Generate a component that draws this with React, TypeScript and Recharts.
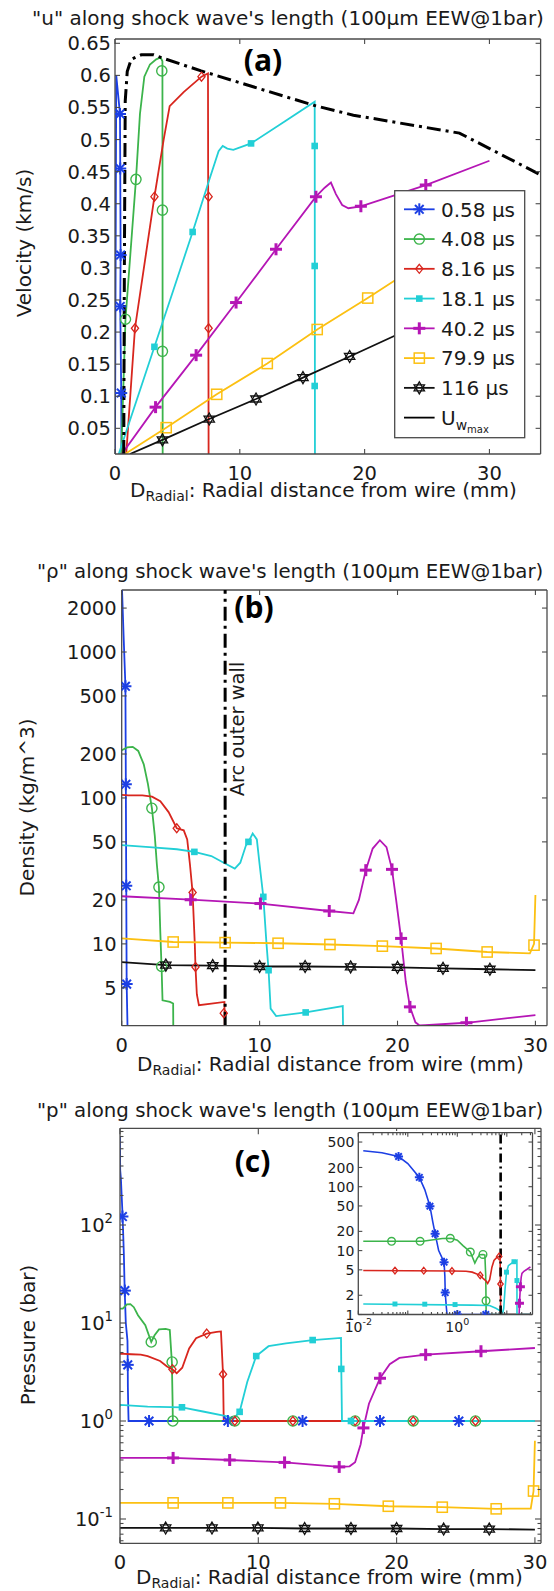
import React from 'react';
import { ComposedChart, Line, Scatter, XAxis, YAxis, ReferenceLine } from 'recharts';

type P = [number, number];

const FONT = '"DejaVu Sans", Verdana, sans-serif';
const AX = '#4a4a4a';
const TXT = '#1a1a1a';

const seriesNames = ['0.58 µs', '4.08 µs', '8.16 µs', '18.1 µs', '40.2 µs', '79.9 µs', '116 µs'];
const seriesColors = ['#1c3fe4', '#3cb44b', '#d8261e', '#22cfd6', '#b516b5', '#fcc012', '#111111'];
const seriesMarkers = ['star', 'circle', 'diamond', 'fsquare', 'plus', 'square', 'hex'];

// ---- (a) velocity (km/s) vs radial distance (mm)
const uBlue: P[] = [[0, 0.01], [0.1, 0.6], [0.25, 0.57], [0.4, 0.54], [0.42, 0.455], [0.45, 0.32], [0.42, 0.24], [0.5, 0.105], [0.52, 0.01]];
const uBlueMk: P[] = [[0.4, 0.54], [0.42, 0.455], [0.45, 0.32], [0.42, 0.24], [0.5, 0.105]];
const uGreen: P[] = [[0.5, 0.01], [0.84, 0.22], [1.68, 0.438], [2.0, 0.54], [2.35, 0.598], [2.8, 0.617], [3.3, 0.625], [3.65, 0.628], [3.8, 0.622], [3.82, 0.01]];
const uGreenMk: P[] = [[0.84, 0.22], [1.68, 0.438], [3.75, 0.607], [3.8, 0.39], [3.8, 0.17]];
const uRed: P[] = [[0.9, 0.01], [1.6, 0.206], [3.16, 0.411], [3.9, 0.5], [4.38, 0.552], [5.5, 0.574], [6.93, 0.598], [7.45, 0.603], [7.5, 0.01]];
const uRedMk: P[] = [[1.6, 0.206], [3.16, 0.411], [6.93, 0.598], [7.5, 0.411], [7.5, 0.206]];
const uCyan: P[] = [[0.3, 0.01], [3.16, 0.177], [4.5, 0.255], [6.22, 0.356], [7.6, 0.44], [8.3, 0.482], [8.63, 0.49], [9.0, 0.486], [9.48, 0.484], [10.9, 0.494], [13.5, 0.527], [16.0, 0.559], [16.02, 0.01]];
const uCyanMk: P[] = [[3.16, 0.177], [6.22, 0.356], [10.9, 0.494], [16.0, 0.49], [16.0, 0.303], [16.0, 0.116]];
const uMag: P[] = [[0.55, 0.01], [3.25, 0.083], [6.5, 0.164], [9.7, 0.246], [12.9, 0.329], [16.1, 0.411], [16.8, 0.425], [17.3, 0.433], [17.7, 0.415], [18.2, 0.398], [18.7, 0.393], [19.7, 0.396], [24.9, 0.429], [30.0, 0.467]];
const uMagMk: P[] = [[3.25, 0.083], [6.5, 0.164], [9.7, 0.246], [12.9, 0.329], [16.1, 0.411], [19.7, 0.396], [24.9, 0.429]];
const uYel: P[] = [[0.8, 0.01], [4.1, 0.051], [8.15, 0.103], [12.2, 0.151], [16.2, 0.204], [20.25, 0.253], [24.3, 0.304], [30, 0.375]];
const uYelMk: P[] = [[4.1, 0.051], [8.15, 0.103], [12.2, 0.151], [16.2, 0.204], [20.25, 0.253]];
const uBlk: P[] = [[1.2, 0.01], [3.8, 0.032], [7.55, 0.0645], [11.3, 0.0957], [15.06, 0.129], [18.8, 0.162], [22.5, 0.195], [30, 0.26]];
const uBlkMk: P[] = [[3.8, 0.032], [7.55, 0.0645], [11.3, 0.0957], [15.06, 0.129], [18.8, 0.162]];
const uWall: P[] = [[0.7, 0.01], [0.75, 0.3], [0.82, 0.56], [0.98, 0.606], [1.3, 0.625], [2.1, 0.632], [3.1, 0.632], [3.8, 0.627], [6.9, 0.607], [16, 0.553], [19.1, 0.538], [27.6, 0.51], [34.1, 0.445]];

// ---- (b) density (kg/m^3)
const rBlue: P[] = [[0.02, 2740], [0.15, 1200], [0.27, 582], [0.3, 124], [0.33, 25], [0.36, 5.3], [0.42, 2.75]];
const rBlueMk: P[] = [[0.27, 582], [0.3, 124], [0.33, 25], [0.36, 5.3]];
const rGreen: P[] = [[0, 212], [0.4, 222], [0.8, 224], [1.2, 210], [1.6, 170], [1.9, 125], [2.19, 85], [2.4, 55], [2.55, 35], [2.7, 24.5], [2.8, 12], [2.9, 6.5], [2.96, 4.1], [3.5, 4.0], [3.73, 3.9], [3.74, 2.75]];
const rGreenMk: P[] = [[2.19, 85], [2.7, 24.5], [2.9, 7.0]];
const rRed: P[] = [[0, 105], [0.5, 104], [1.5, 104], [2.2, 102], [2.8, 95], [3.4, 80], [3.99, 62], [4.5, 60], [4.75, 52], [4.95, 35], [5.14, 22.5], [5.3, 10], [5.35, 6.95], [5.45, 4.5], [5.6, 3.8], [6.5, 3.9], [7.45, 4.0], [7.47, 2.75]];
const rRedMk: P[] = [[3.99, 62], [5.14, 22.5], [5.35, 6.95], [7.4, 3.35]];
const rCyan: P[] = [[0, 47.5], [2, 46], [4, 44.5], [5.27, 42.7], [6.5, 40], [7.5, 35.5], [8.2, 32.8], [8.6, 36], [9.0, 47], [9.19, 50], [9.5, 57], [9.8, 52], [10.0, 35], [10.27, 21], [10.5, 10], [10.65, 6.6], [10.8, 3.6], [11.2, 3.2], [13.34, 3.39], [16.03, 3.75], [16.05, 2.75]];
const rCyanMk: P[] = [[5.27, 42.7], [9.19, 50], [10.27, 21], [10.65, 6.6], [13.34, 3.39]];
const rMag: P[] = [[0, 21.2], [5.0, 20.1], [10.06, 18.9], [15.05, 16.8], [16.8, 16.2], [17.2, 20], [17.7, 32], [18.2, 45], [18.72, 51.3], [19.2, 46], [19.6, 32.4], [19.9, 20], [20.26, 10.9], [20.6, 5.5], [20.9, 3.7], [21.3, 2.9], [21.6, 2.76], [22.0, 2.77], [25.0, 2.88], [30.0, 3.25]];
const rMagMk: P[] = [[5.0, 20.1], [10.06, 18.9], [15.05, 16.8], [17.7, 32], [19.6, 32.4], [20.26, 10.9], [20.9, 3.7], [25.0, 2.88]];
const rYel: P[] = [[0, 10.9], [3.73, 10.3], [7.5, 10.2], [11.34, 10.1], [15.1, 9.9], [18.9, 9.65], [22.8, 9.3], [26.5, 8.8], [29.6, 8.6], [29.9, 10], [30, 21.6]];
const rYelMk: P[] = [[3.73, 10.3], [7.5, 10.2], [11.34, 10.1], [15.1, 9.9], [18.9, 9.65], [22.8, 9.3], [26.5, 8.8], [29.9, 9.8]];
const rBlk: P[] = [[0, 7.5], [3.2, 7.15], [6.6, 7.1], [10, 7.0], [13.3, 7.0], [16.6, 6.95], [20, 6.9], [23.3, 6.8], [26.7, 6.7], [30, 6.6]];
const rBlkMk: P[] = [[3.2, 7.15], [6.6, 7.1], [10, 7.0], [13.3, 7.0], [16.6, 6.95], [20, 6.9], [23.3, 6.8], [26.7, 6.7]];

// ---- (c) pressure (bar)
const pBlue: P[] = [[0, 800], [0.0126, 365], [0.03, 340], [0.065, 297], [0.1, 230], [0.171, 140], [0.22, 90], [0.28, 49.6], [0.32, 28], [0.356, 18.4], [0.42, 10], [0.54, 6.6], [0.56, 4], [0.57, 2.2], [0.6, 1.3], [0.62, 1.0], [30, 1.0]];
const pBlueMk: P[] = [[0.175, 122], [0.35, 21.4], [0.56, 3.74], [2.1, 1], [7.8, 1], [13.2, 1], [18.8, 1], [24.5, 1]];
const pGreen: P[] = [[0, 14.2], [0.0126, 14], [0.05, 14], [0.2, 14], [0.5, 15.5], [0.75, 15.6], [1.0, 14.5], [1.3, 12], [1.83, 9.5], [2.26, 6.4], [2.5, 7.5], [2.82, 8.6], [3.3, 8.7], [3.6, 8.5], [3.75, 4.0], [3.8, 1.64], [3.82, 1.0], [30, 1.0]];
const pGreenMk: P[] = [[2.26, 6.4], [3.77, 4.0], [3.82, 1.0], [8.3, 1], [12.5, 1], [17.0, 1], [21.2, 1], [25.7, 1]];
const pRed: P[] = [[0, 4.75], [0.0126, 4.87], [0.8, 4.8], [1.5, 4.75], [2.0, 4.6], [2.9, 4.1], [3.4, 3.6], [3.8, 3.35], [4.1, 3.07], [4.5, 3.5], [5.0, 5.5], [5.5, 7.0], [6.27, 7.8], [7.0, 8.1], [7.3, 8.2], [7.45, 3.0], [7.5, 1.0], [30, 1.0]];
const pRedMk: P[] = [[3.79, 3.38], [6.27, 7.8], [7.45, 3.0], [8.3, 1.0], [12.5, 1], [17.0, 1], [21.2, 1], [25.7, 1]];
const pCyan: P[] = [[0, 1.41], [0.0126, 1.46], [2.0, 1.4], [4.48, 1.38], [6.0, 1.25], [7.67, 1.12], [8.2, 1.05], [8.65, 1.24], [9.2, 2.5], [9.85, 4.6], [10.74, 5.8], [12.0, 6.2], [13.93, 6.7], [15.98, 7.05], [16.0, 3.4], [16.05, 1.0], [30, 1.0]];
const pCyanMk: P[] = [[4.48, 1.38], [8.65, 1.24], [9.85, 4.6], [13.93, 6.7], [16.0, 3.4], [16.7, 1.0]];
const pMag: P[] = [[0, 0.42], [3.84, 0.42], [7.93, 0.4], [11.9, 0.378], [15.85, 0.34], [16.6, 0.345], [17.0, 0.38], [17.4, 0.58], [17.6, 0.85], [18.0, 1.5], [18.8, 2.73], [19.5, 3.8], [20.2, 4.4], [22.1, 4.75], [26.1, 5.15], [30, 5.56]];
const pMagMk: P[] = [[3.84, 0.42], [7.93, 0.4], [11.9, 0.378], [15.85, 0.34], [17.6, 0.85], [18.8, 2.73], [22.1, 4.75], [26.1, 5.15]];
const pYel: P[] = [[0, 0.146], [3.84, 0.146], [7.8, 0.146], [11.6, 0.146], [15.5, 0.143], [19.4, 0.135], [23.3, 0.132], [27.2, 0.127], [29.7, 0.128], [29.9, 0.193], [30, 0.63]];
const pYelMk: P[] = [[3.84, 0.146], [7.8, 0.146], [11.6, 0.146], [15.5, 0.143], [19.4, 0.135], [23.3, 0.132], [27.2, 0.127], [29.9, 0.193]];
const pBlk: P[] = [[0, 0.081], [3.3, 0.081], [6.65, 0.081], [9.97, 0.081], [13.35, 0.08], [16.7, 0.08], [20, 0.08], [23.4, 0.079], [26.7, 0.079], [30, 0.078]];
const pBlkMk: P[] = [[3.3, 0.081], [6.65, 0.081], [9.97, 0.081], [13.35, 0.08], [16.7, 0.08], [20, 0.08], [23.4, 0.079], [26.7, 0.079]];

// inset markers (log-log view of (c))
const iBlueMk: P[] = [[0.065, 297], [0.171, 140], [0.28, 49.6], [0.356, 18.4], [0.54, 6.6], [0.57, 2.2], [1.0, 1.0], [3.76, 1.0]];
const iGreenMk: P[] = [[0.047, 14], [0.177, 14], [0.72, 15.6], [1.83, 9.5], [3.3, 8.7], [3.8, 1.64]];
const iRedMk: P[] = [[0.055, 4.87], [0.21, 4.85], [0.78, 4.8], [2.9, 4.1], [7.0, 8.1], [7.45, 3.0]];
const iCyanMk: P[] = [[0.055, 1.46], [0.22, 1.45], [0.9, 1.43], [9.85, 4.6], [13.93, 6.7], [16.0, 3.4]];
const iMagMk: P[] = [[18.0, 1.5], [18.8, 2.73]];

// ticks
const xTicks30 = [0, 10, 20, 30];
const uYTicks = [0.05, 0.1, 0.15, 0.2, 0.25, 0.3, 0.35, 0.4, 0.45, 0.5, 0.55, 0.6, 0.65];
const rYTicks = [5, 10, 20, 50, 100, 200, 500, 1000, 2000];
const pYMajor = [0.1, 1, 10, 100];
const pYTicks = [0.06, 0.07, 0.08, 0.09, 0.1, 0.2, 0.3, 0.4, 0.5, 0.6, 0.7, 0.8, 0.9, 1, 2, 3, 4, 5, 6, 7, 8, 9, 10, 20, 30, 40, 50, 60, 70, 80, 90, 100, 200, 300, 400, 500, 600, 700, 800, 900];
const iYTicks = [1, 2, 5, 10, 20, 50, 100, 200, 500];
const iXMajor = [0.01, 0.1, 1, 10];
const iXLabelled = [0.01, 1];
const iXTicks = [0.01, 0.02, 0.03, 0.04, 0.05, 0.06, 0.07, 0.08, 0.09, 0.1, 0.2, 0.3, 0.4, 0.5, 0.6, 0.7, 0.8, 0.9, 1, 2, 3, 4, 5, 6, 7, 8, 9, 10, 20, 30];

const pts = (a: P[]) => a.map(([x, y]) => ({ x, y }));
const pos = (a: P[]) => a.filter(([x, y]) => x > 0 && y > 0);
const near = (list: number[]) => (v: number) => list.some((t) => Math.abs(t - v) < 1e-9);

function Marker({ kind, cx, cy, c, s }: { kind: string; cx: number; cy: number; c: string; s: number }) {
  if (cx == null || cy == null) return null;
  switch (kind) {
    case 'star': {
      const d = s * 0.72;
      return (
        <g stroke={c} strokeWidth={2}>
          <line x1={cx - s} y1={cy} x2={cx + s} y2={cy} />
          <line x1={cx} y1={cy - s} x2={cx} y2={cy + s} />
          <line x1={cx - d} y1={cy - d} x2={cx + d} y2={cy + d} />
          <line x1={cx - d} y1={cy + d} x2={cx + d} y2={cy - d} />
        </g>
      );
    }
    case 'circle':
      return <circle cx={cx} cy={cy} r={s * 0.85} fill="none" stroke={c} strokeWidth={1.4} />;
    case 'diamond': {
      const a = s * 0.75;
      return <polygon points={`${cx},${cy - a} ${cx + a * 0.8},${cy} ${cx},${cy + a} ${cx - a * 0.8},${cy}`} fill="none" stroke={c} strokeWidth={1.3} />;
    }
    case 'fsquare': {
      const a = s * 0.55;
      return <rect x={cx - a} y={cy - a} width={2 * a} height={2 * a} fill={c} />;
    }
    case 'plus':
      return (
        <g stroke={c} strokeWidth={3}>
          <line x1={cx - s} y1={cy} x2={cx + s} y2={cy} />
          <line x1={cx} y1={cy - s} x2={cx} y2={cy + s} />
        </g>
      );
    case 'square': {
      const a = s * 0.85;
      return <rect x={cx - a} y={cy - a} width={2 * a} height={2 * a} fill="none" stroke={c} strokeWidth={1.5} />;
    }
    default: {
      const tri = (off: number) =>
        [0, 1, 2].map((k) => {
          const t = ((off + 120 * k) * Math.PI) / 180;
          return `${cx + s * Math.cos(t)},${cy + s * Math.sin(t)}`;
        }).join(' ');
      return (
        <g fill="none" stroke={c} strokeWidth={1.3}>
          <polygon points={tri(-90)} />
          <polygon points={tri(90)} />
        </g>
      );
    }
  }
}

type Ser = { line: P[]; marks: P[]; idx: number };

type PanelProps = {
  left: number; top: number; w: number; h: number;
  plot: { l: number; t: number; r: number; b: number };
  xDom: [number, number]; yDom: [number, number];
  xLog?: boolean; yLog?: boolean;
  xTicks: number[]; yTicks: number[];
  xMajor: (v: number) => boolean; yMajor: (v: number) => boolean;
  xLabel: (v: number) => React.ReactNode; yLabel: (v: number) => React.ReactNode;
  fs: number; xOff: number; yGap: number; tick: number; minor: number;
  ms: number; lw: number; yw: number;
  series: Ser[];
  extra?: React.ReactNode[];
};

function Panel(p: PanelProps) {
  const XH = 30;
  const l = p.plot.l - p.left, t = p.plot.t - p.top, r = p.plot.r - p.left, b = p.plot.b - p.top;
  const spanX = r - l, spanY = b - t;
  const margin = { top: t, left: l - p.yw, right: p.w - r, bottom: p.h - b - XH };

  const yTickFn = (tp: any) => {
    const v = tp.payload.value;
    const maj = p.yMajor(v);
    const L = maj ? p.tick : p.minor;
    const lab = maj ? p.yLabel(v) : null;
    return (
      <g>
        <line x1={tp.x} y1={tp.y} x2={tp.x + L} y2={tp.y} stroke={AX} strokeWidth={1.1} />
        <line x1={tp.x + spanX} y1={tp.y} x2={tp.x + spanX - L} y2={tp.y} stroke={AX} strokeWidth={1.1} />
        {lab != null && (
          <text x={tp.x - p.yGap} y={tp.y + p.fs * 0.36} textAnchor="end" fontSize={p.fs} fontFamily={FONT} fill={TXT}>{lab}</text>
        )}
      </g>
    );
  };
  const xTickFn = (tp: any) => {
    const v = tp.payload.value;
    const maj = p.xMajor(v);
    const L = maj ? p.tick : p.minor;
    const lab = maj ? p.xLabel(v) : null;
    return (
      <g>
        <line x1={tp.x} y1={tp.y} x2={tp.x} y2={tp.y - L} stroke={AX} strokeWidth={1.1} />
        <line x1={tp.x} y1={tp.y - spanY} x2={tp.x} y2={tp.y - spanY + L} stroke={AX} strokeWidth={1.1} />
        {lab != null && (
          <text x={tp.x} y={tp.y + p.xOff} textAnchor="middle" fontSize={p.fs} fontFamily={FONT} fill={TXT}>{lab}</text>
        )}
      </g>
    );
  };

  return (
    <div style={{ position: 'absolute', left: p.left, top: p.top }}>
      <ComposedChart width={p.w} height={p.h} margin={margin}>
        <XAxis dataKey="x" type="number" scale={p.xLog ? 'log' : 'linear'} domain={p.xDom} allowDataOverflow
          ticks={p.xTicks} interval={0} tickSize={0} tickMargin={0} height={XH} tick={xTickFn} tickLine={false}
          axisLine={{ stroke: AX, strokeWidth: 1.3 }} />
        <YAxis dataKey="y" type="number" scale={p.yLog ? 'log' : 'linear'} domain={p.yDom} allowDataOverflow
          ticks={p.yTicks} interval={0} tickSize={0} tickMargin={0} width={p.yw} tick={yTickFn} tickLine={false}
          axisLine={{ stroke: AX, strokeWidth: 1.3 }} />
        <ReferenceLine x={p.xDom[1]} stroke={AX} strokeWidth={1.3} ifOverflow="visible" />
        <ReferenceLine y={p.yDom[1]} stroke={AX} strokeWidth={1.3} ifOverflow="visible" />
        {p.series.flatMap((s) => [
          <Line key={'l' + s.idx} data={pts(s.line)} dataKey="y" type="linear" stroke={seriesColors[s.idx]}
            strokeWidth={p.lw} dot={false} activeDot={false} isAnimationActive={false} />,
          <Scatter key={'m' + s.idx} data={pts(s.marks)} dataKey="y" isAnimationActive={false}
            shape={(sp: any) => <Marker kind={seriesMarkers[s.idx]} cx={sp.cx} cy={sp.cy} c={seriesColors[s.idx]} s={p.ms} />} />,
        ])}
        {p.extra}
      </ComposedChart>
    </div>
  );
}

const num = (v: number) => String(v);
const pow10 = (base: number) => (v: number) => {
  const e = Math.round(Math.log10(v));
  return (
    <>
      10<tspan dy={-base * 0.45} fontSize={base * 0.68}>{e < 0 ? '-' + -e : String(e)}</tspan>
    </>
  );
};

function LegendBox() {
  const rowY = (i: number) => 19.3 + i * 29.76;
  return (
    <svg width={132} height={249} style={{ position: 'absolute', left: 394, top: 190, overflow: 'visible' }}>
      <rect x={0.7} y={0.7} width={130} height={247} fill="#fff" stroke={AX} strokeWidth={1.3} />
      {seriesNames.map((n, i) => (
        <g key={n}>
          <line x1={10} x2={40.6} y1={rowY(i)} y2={rowY(i)} stroke={seriesColors[i]} strokeWidth={1.8} />
          <Marker kind={seriesMarkers[i]} cx={25.3} cy={rowY(i)} c={seriesColors[i]} s={6} />
          <text x={47} y={rowY(i) + 7.3} fontSize={20} fontFamily={FONT} fill={TXT}>{n}</text>
        </g>
      ))}
      <line x1={10} x2={40.6} y1={rowY(7)} y2={rowY(7)} stroke="#000" strokeWidth={1.8} />
      <text x={47} y={rowY(7) + 7.3} fontSize={20} fontFamily={FONT} fill={TXT}>
        U<tspan dy={5} fontSize={14}>w</tspan><tspan dy={3} fontSize={10}>max</tspan>
      </text>
    </svg>
  );
}

const dashDot = '14 5 3 5';

export default function App() {
  const serA: Ser[] = [
    { line: uBlue, marks: uBlueMk, idx: 0 }, { line: uGreen, marks: uGreenMk, idx: 1 },
    { line: uRed, marks: uRedMk, idx: 2 }, { line: uCyan, marks: uCyanMk, idx: 3 },
    { line: uMag, marks: uMagMk, idx: 4 }, { line: uYel, marks: uYelMk, idx: 5 },
    { line: uBlk, marks: uBlkMk, idx: 6 },
  ];
  const serB: Ser[] = [
    { line: rBlue, marks: rBlueMk, idx: 0 }, { line: rGreen, marks: rGreenMk, idx: 1 },
    { line: rRed, marks: rRedMk, idx: 2 }, { line: rCyan, marks: rCyanMk, idx: 3 },
    { line: rMag, marks: rMagMk, idx: 4 }, { line: rYel, marks: rYelMk, idx: 5 },
    { line: rBlk, marks: rBlkMk, idx: 6 },
  ];
  const serC: Ser[] = [
    { line: pBlue, marks: pBlueMk, idx: 0 }, { line: pGreen, marks: pGreenMk, idx: 1 },
    { line: pRed, marks: pRedMk, idx: 2 }, { line: pMag, marks: pMagMk, idx: 4 },
    { line: pYel, marks: pYelMk, idx: 5 }, { line: pBlk, marks: pBlkMk, idx: 6 },
    { line: pCyan, marks: pCyanMk, idx: 3 },
  ];
  const serI: Ser[] = [
    { line: pos(pBlue), marks: iBlueMk, idx: 0 }, { line: pos(pGreen), marks: iGreenMk, idx: 1 },
    { line: pos(pRed), marks: iRedMk, idx: 2 }, { line: pos(pMag), marks: iMagMk, idx: 4 },
    { line: pos(pCyan), marks: iCyanMk, idx: 3 },
  ];
  const all = () => true;

  return (
    <div style={{ position: 'absolute', left: 0, top: 0, width: 554, height: 1591, background: '#fff', overflow: 'hidden' }}>
      <Panel left={0} top={0} w={554} h={500} plot={{ l: 115, t: 39, r: 540.6, b: 454 }}
        xDom={[0, 34.1]} yDom={[0.01, 0.6567]} xTicks={xTicks30} yTicks={uYTicks}
        xMajor={all} yMajor={all} xLabel={num} yLabel={num} fs={19.5} xOff={25.5} yGap={4}
        tick={5} minor={3} ms={6} lw={1.8} yw={60} series={serA}
        extra={[
          <Line key="wall" data={pts(uWall)} dataKey="y" type="linear" stroke="#000" strokeWidth={3}
            strokeDasharray={dashDot} dot={false} activeDot={false} isAnimationActive={false} />,
        ]} />
      <Panel left={0} top={560} w={554} h={500} plot={{ l: 121.7, t: 590, r: 547, b: 1025.7 }}
        xDom={[0, 30.84]} yDom={[2.75, 2660]} yLog xTicks={xTicks30} yTicks={rYTicks}
        xMajor={all} yMajor={all} xLabel={num} yLabel={num} fs={19.5} xOff={26} yGap={5}
        tick={5} minor={3} ms={6} lw={1.8} yw={60} series={serB}
        extra={[
          <ReferenceLine key="arc" x={7.5} stroke="#000" strokeWidth={3} strokeDasharray={dashDot} />,
        ]} />
      <Panel left={0} top={1100} w={554} h={491} plot={{ l: 120, t: 1128.3, r: 541, b: 1543.3 }}
        xDom={[0, 30.44]} yDom={[0.0565, 970]} yLog xTicks={xTicks30} yTicks={pYTicks}
        xMajor={all} yMajor={near(pYMajor)} xLabel={num} yLabel={pow10(19.5)} fs={19.5} xOff={25.5} yGap={7}
        tick={6} minor={3.5} ms={6} lw={1.8} yw={60} series={serC} />
      <div style={{ position: 'absolute', left: 330, top: 1131, width: 204, height: 206, background: '#fff' }} />
      <Panel left={300} top={1120} w={254} h={225} plot={{ l: 358.3, t: 1132.7, r: 532.5, b: 1314.5 }}
        xDom={[0.01, 33]} yDom={[1, 700]} xLog yLog xTicks={iXTicks} yTicks={iYTicks}
        xMajor={near(iXMajor)} yMajor={all}
        xLabel={(v) => (near(iXLabelled)(v) ? pow10(14)(v) : null)} yLabel={num}
        fs={14} xOff={17} yGap={4} tick={4} minor={2.5} ms={4.5} lw={1.6} yw={40} series={serI}
        extra={[
          <ReferenceLine key="arc" x={7.5} stroke="#000" strokeWidth={2.6} strokeDasharray="9 4 2 4" />,
        ]} />
      <LegendBox />
      <svg width={554} height={1591} style={{ position: 'absolute', left: 0, top: 0, pointerEvents: 'none' }}
        fontFamily={FONT} fill={TXT}>
        <text x={32} y={25} fontSize={20}>"u" along shock wave's length (100µm EEW@1bar)</text>
        <text x={37} y={578} fontSize={19.8}>"ρ" along shock wave's length (100µm EEW@1bar)</text>
        <text x={37} y={1117} fontSize={19.8}>"p" along shock wave's length (100µm EEW@1bar)</text>

        <text transform="translate(24,243) rotate(-90)" textAnchor="middle" dy={7} fontSize={20}>Velocity (km/s)</text>
        <text transform="translate(27.4,807.5) rotate(-90)" textAnchor="middle" dy={7} fontSize={20}>Density (kg/m^3)</text>
        <text transform="translate(27.5,1335) rotate(-90)" textAnchor="middle" dy={7} fontSize={20}>Pressure (bar)</text>

        {[[130, 497], [137, 1071], [136, 1584]].map(([x, y]) => (
          <text key={y} x={x} y={y} fontSize={20}>
            D<tspan dy={3.5} fontSize={14}>Radial</tspan><tspan dy={-3.5}>: Radial distance from wire (mm)</tspan>
          </text>
        ))}

        <text transform="translate(237,729) rotate(-90)" textAnchor="middle" dy={7} fontSize={19.5}>Arc outer wall</text>

        <g fontFamily='"Open Sans", sans-serif' fontWeight="bold" fontSize={30} textAnchor="middle" fill="#000">
          <text x={263} y={71}>(a)</text>
          <text x={254} y={618}>(b)</text>
          <text x={252.6} y={1172}>(c)</text>
        </g>
      </svg>
    </div>
  );
}
